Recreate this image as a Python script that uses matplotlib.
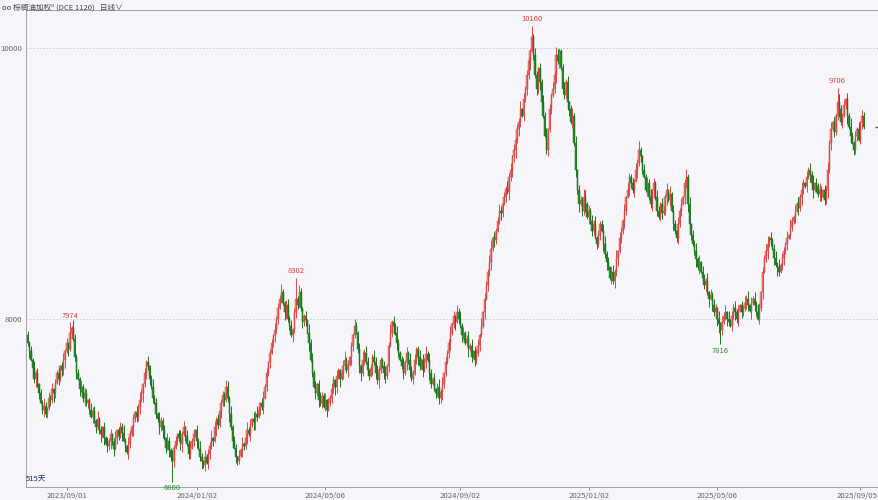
import matplotlib
matplotlib.use('Agg')
import matplotlib.pyplot as plt
import matplotlib.transforms as mtransforms
import numpy as np

plt.rcParams['font.family'] = ['Noto Sans CJK SC', 'DejaVu Sans']

TITLE = 'oo 棕榈油加权⁰ (DCE 1120)   日线∨'
DAYS_LABEL = '515天'

# daily closes
close = [
    7820, 7760, 7700, 7640, 7560, 7600, 7520, 7450, 7380, 7330,
    7360, 7300, 7340, 7420, 7400, 7480, 7450, 7530, 7600, 7560, 7650, 7620, 7700, 7760, 7820, 7780, 7900,
    7930, 7850, 7720, 7600, 7560, 7480, 7500, 7420, 7450, 7380,
    7400, 7330, 7280, 7320, 7250, 7200, 7260, 7180, 7150, 7200, 7120, 7080, 7060,
    7100, 7150, 7090, 7040, 7120, 7180, 7140, 7200, 7160, 7100, 7060, 7020, 7080, 7150, 7200, 7260, 7310, 7280, 7350, 7400,
    7450, 7520, 7600, 7680, 7650,
    7560, 7500, 7420, 7380, 7300, 7260, 7200, 7250, 7180, 7120, 7050, 7100, 7030, 6980, 6950,
    7050, 7100, 7150, 7120, 7080, 7150, 7200, 7140, 7080, 7000, 7050, 7100, 7150, 7180, 7100, 7040, 6980, 6950, 6920, 6980, 6940,
    7000, 7060, 7120, 7100, 7200, 7260, 7220, 7320, 7380, 7440, 7400, 7500,
    7420, 7300, 7200, 7100, 7050, 6980, 6950, 6990,
    7030, 7080, 7060, 7120, 7180, 7150, 7220, 7260, 7240, 7300, 7280, 7330, 7380, 7350, 7420,
    7500, 7600, 7680, 7750, 7820, 7880, 7920,
    8000, 8080, 8150, 8200, 8120, 8050,
    8100, 8000, 7950, 7880, 7920, 8050, 8150, 8100,
    8200, 8080, 7980, 8020, 7990,
    7900, 7820, 7700, 7600, 7500, 7450, 7520, 7400, 7380, 7430, 7350, 7400, 7330, 7380,
    7420, 7480, 7550, 7500, 7580, 7620, 7560, 7600, 7650, 7700, 7620, 7660, 7720, 7800, 7880, 7950, 7900,
    7780, 7650, 7600, 7700, 7750, 7680, 7620, 7580, 7640, 7720, 7680, 7600, 7550, 7620, 7700, 7650, 7600, 7580, 7650, 7800,
    7900, 7980, 7950,
    7900, 7820, 7750, 7700, 7650, 7600, 7680, 7750, 7700, 7620, 7560, 7600, 7700, 7780, 7720, 7650, 7700, 7620, 7680, 7740,
    7700, 7600, 7520, 7560, 7480, 7450, 7500, 7420, 7460,
    7520, 7600, 7680, 7750, 7820, 7900, 7960, 8020, 7980, 8050, 8000,
    7950, 7880, 7900, 7820, 7850, 7780, 7800, 7720, 7760, 7700, 7750, 7800, 7880,
    7950, 8050, 8150, 8250, 8350, 8420, 8520, 8600, 8580, 8650, 8720, 8800, 8780, 8850, 8900, 8960, 8940, 9050, 9100, 9200,
    9250, 9320, 9400,
    9450, 9550, 9500, 9620, 9700, 9800, 9900, 9980, 10080,
    9950, 9800, 9700, 9850, 9750, 9600, 9500, 9350, 9250,
    9400, 9550, 9650, 9700, 9800, 9950, 9900,
    9980, 9850, 9700, 9650, 9750, 9600, 9550, 9450, 9500, 9300,
    9100, 8950, 8850, 8880, 8800, 8900, 8850, 8750, 8800, 8720, 8650, 8700, 8600, 8550, 8620, 8700, 8650, 8550, 8480, 8420,
    8380, 8300, 8350, 8280,
    8350, 8450, 8500, 8600, 8650, 8720, 8800, 8900, 8950, 9050, 9000, 8950, 9020, 9100, 9150, 9250, 9200,
    9100, 9050, 8950, 9000, 8900, 8850, 8950, 9000, 8900, 8800, 8750, 8850, 8780,
    8800, 8900, 8950, 8880, 8920, 8800, 8700, 8650, 8600, 8700, 8800, 8850, 8900, 9000, 9050,
    8850, 8700, 8620, 8550, 8500, 8440, 8380, 8420, 8350, 8300, 8250, 8280, 8200, 8150, 8180, 8100, 8050, 8080, 8000, 7960,
    7920,
    7980, 8020, 8050, 8000, 7980, 7950, 8020, 8080, 8050, 8000, 8060, 8100, 8050, 8080, 8120, 8150, 8100, 8060, 8120, 8150,
    8100, 8050, 8000, 8080, 8200,
    8350, 8450, 8500, 8550, 8600, 8580, 8520, 8450, 8400, 8380, 8350, 8400, 8450, 8500, 8550, 8600, 8620, 8680, 8720,
    8750, 8800, 8850, 8820, 8900, 8950, 9000, 8980, 9050, 9100, 9060, 9000, 8950, 9000, 8980, 8920, 8950, 8900, 8950, 8880,
    8950,
    9100, 9300, 9400, 9450, 9380, 9500, 9600, 9550,
    9450, 9500, 9580, 9620, 9500, 9420, 9350, 9300, 9250, 9350, 9400, 9320, 9450, 9500, 9420,
]
first_open = 7880

# wick lengths in tens of points, one digit per candle
wick_up_digits = """
3241524132 6314251324 1352413264 2315243125 3416231425
2413512436 2153241526 3142513624 1532416325 2413625143
5231426315 2436152413 3254162431 4251362415 2631452413
3152436214 5241362531 2416352413 6325142531 4213562413
2531426354 1325463214 5236142531 3624153241 2514362531
4136251423 5241536241 3625143526 1432561423 5314263514
2436152431 6253142536 1425364213 5241362514 3265142536
1423562413 5261432516 3241536214 2536142531 4325162431
5241362514 3625143261 4253162435 1624352413 2536142536
4132561423 5261432516 3241526314 2536142531 4362514236
3241526314 25143
"""
wick_dn_digits = """
2514362413 5231426315 2436152413 4152362431 5241362514
3625143261 4253162435 1624352413 2536142536 4132561423
3142513624 1532416325 2413625143 2153241526 6314251324
1352413264 2315243125 3416231425 2413512436 5261432516
4213562413 3152436214 5241362531 2416352413 6325142531
1325463214 5236142531 3624153241 2514362531 2531426354
6253142536 1425364213 5241362514 3265142536 2436152431
3241536214 2536142531 4325162431 1423562413 4136251423
5241536241 3625143526 1432561423 5314263514 3254162431
4251362415 2631452413 3241526314 2536142531 4362514236
2413625143 41352
"""

# labelled extremes: candle index -> value
high_marks = {26: 7974, 165: 8302, 310: 10160, 498: 9706}
low_marks = {89: 6800, 426: 7816}

tick_index = [24, 104, 183, 266, 345, 424, 512]
tick_labels = ['2023/09/01', '2024/01/02', '2024/05/06', '2024/09/02',
               '2025/01/02', '2025/05/06', '2025/09/05']

UP = '#f08a86'
UP_EDGE = '#d94a45'
DOWN = '#2c962c'
DOWN_EDGE = '#1d761d'
BG = '#f5f5fa'


def build_ohlc():
    c = np.array(close, dtype=float)
    o = np.concatenate([[first_open], c[:-1]])
    up = np.array([int(d) for d in ''.join(wick_up_digits.split())], dtype=float) * 10
    dn = np.array([int(d) for d in ''.join(wick_dn_digits.split())], dtype=float) * 10
    n = len(c)
    h = np.maximum(o, c) + up[:n]
    l = np.minimum(o, c) - dn[:n]
    for i, v in high_marks.items():
        h[i] = v
    for i, v in low_marks.items():
        l[i] = v
    return o, h, l, c


def main():
    o, h, l, c = build_ohlc()
    x = np.arange(len(c))
    rising = c >= o

    fig = plt.figure(figsize=(8.79, 5.0), dpi=100)
    fig.patch.set_facecolor(BG)
    ax = fig.add_axes([26 / 879, 13 / 500, 1 - 26 / 879, 477 / 500])
    ax.set_facecolor(BG)

    for mask, face, edge in [(rising, UP, UP_EDGE), (~rising, DOWN, DOWN_EDGE)]:
        ax.vlines(x[mask], l[mask], h[mask], color=edge, lw=0.7)
        body = np.maximum(np.abs(c[mask] - o[mask]), 6)
        ax.bar(x[mask], body, bottom=np.minimum(o[mask], c[mask]), width=0.85,
               color=face, edgecolor=edge, linewidth=0.35)

    for i, v in high_marks.items():
        ax.annotate(str(v), (i, v), xytext=(0, 2), textcoords='offset points',
                    ha='center', va='bottom', fontsize=5.5, color='#d9423f')
    for i, v in low_marks.items():
        ax.annotate(str(v), (i, v), xytext=(0, -2), textcoords='offset points',
                    ha='center', va='top', fontsize=5.5, color='#2f8a2f')

    for lvl in [8000, 10000]:
        ax.axhline(lvl, color='#c8c8d0', lw=0.6, ls=(0, (2, 2)), zorder=0)

    # latest price marker on the right edge
    ax.plot([523], [c[-1]], marker='_', ms=4, color='#555555', clip_on=False)

    ax.set_xlim(-1, 523.5)
    ax.set_ylim(6760, 10280)
    ax.set_yticks([8000, 10000])
    ax.set_yticklabels(['8000', '10000'])
    ax.set_xticks(tick_index)
    ax.set_xticklabels(tick_labels)
    ax.tick_params(axis='both', labelsize=5.6, colors='#666666', length=2, width=0.5, pad=1.5)
    ax.tick_params(axis='y', length=0, pad=3)

    # keep the last date inside the picture, as in the reference
    last = ax.get_xticklabels()[-1]
    last.set_horizontalalignment('right')
    last.set_transform(last.get_transform() +
                       mtransforms.ScaledTranslation(0.175, 0, fig.dpi_scale_trans))

    ax.spines['right'].set_visible(False)
    for side in ['left', 'bottom', 'top']:
        ax.spines[side].set_color('#a0a0a8')
        ax.spines[side].set_linewidth(0.7)

    ax.text(0.0, 0.008, DAYS_LABEL, transform=ax.transAxes, fontsize=5.5,
            color='#1a2a7a', ha='left', va='bottom')
    fig.text(0.002, 0.993, TITLE, fontsize=5.5, color='#444444', ha='left', va='top')

    fig.savefig('out.png', dpi=100, facecolor=BG)
    plt.close(fig)


if __name__ == '__main__':
    main()
